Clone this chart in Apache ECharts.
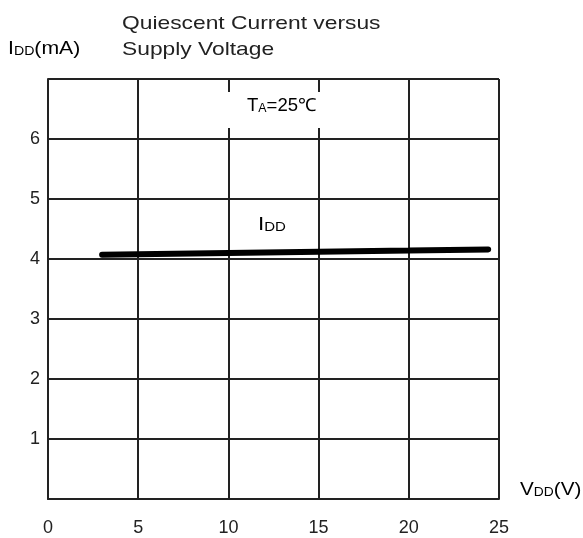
<!DOCTYPE html>
<html>
<head>
<meta charset="utf-8">
<script src="https://cdn.jsdelivr.net/npm/echarts@6/dist/echarts.min.js"></script>
<style>
  html, body { margin: 0; padding: 0; background: #fff; }
  #chart { width: 583px; height: 538px; }
</style>
</head>
<body>
<div id="chart"></div>
<script>
// supply voltage (V) and quiescent current (mA)
const vdd = [3, 5, 10, 15, 20, 24.4]
const idd = [4.07, 4.08, 4.1, 4.12, 4.14, 4.16]
const xTicks = [0, 5, 10, 15, 20, 25]
const yTicks = [1, 2, 3, 4, 5, 6]

const FONT = '"Liberation Sans", Arial, sans-serif'
const INK = '#222'

const chart = echarts.init(document.getElementById('chart'), null, { renderer: 'canvas' })

const sub = {
  base: { fontSize: 18, color: INK, fontFamily: FONT },
  sub: { fontSize: 12, color: INK, fontFamily: FONT, verticalAlign: 'bottom', padding: [6, 0, 0, 0] },
}

// text written in the wide face of the original
const wideText = (x, y, text, scaleX, extra) => ({
  type: 'text', x, y, scaleX, z: 6,
  style: Object.assign({ text, rich: sub, align: 'left', verticalAlign: 'top' }, extra || {}),
})

const option = {
  backgroundColor: '#fff',
  animation: false,
  grid: { left: 48, top: 79, width: 451, height: 420, show: false },
  xAxis: {
    type: 'value',
    min: 0,
    max: 25,
    interval: 5,
    axisLine: { show: true, onZero: false, lineStyle: { color: INK, width: 2 } },
    axisTick: { show: false },
    splitLine: { show: true, lineStyle: { color: INK, width: 2 } },
    axisLabel: {
      margin: 20,
      fontSize: 18,
      color: INK,
      fontFamily: FONT,
      formatter: (v) => (xTicks.includes(v) ? String(v) : ''),
    },
  },
  yAxis: {
    type: 'value',
    min: 0,
    max: 7,
    interval: 1,
    axisLine: { show: true, onZero: false, lineStyle: { color: INK, width: 2 } },
    axisTick: { show: false },
    splitLine: { show: true, lineStyle: { color: INK, width: 2 } },
    axisLabel: {
      margin: 8,
      fontSize: 18,
      color: INK,
      fontFamily: FONT,
      formatter: (v) => (yTicks.includes(v) ? String(v) : ''),
    },
  },
  series: [
    {
      name: 'IDD',
      type: 'line',
      data: vdd.map((v, i) => [v, idd[i]]),
      showSymbol: false,
      smooth: false,
      lineStyle: { color: '#000', width: 6, cap: 'round' },
      z: 5,
    },
  ],
  graphic: [
    // right and top border of the plot box
    { type: 'line', shape: { x1: 499, y1: 79, x2: 499, y2: 499 }, style: { stroke: INK, lineWidth: 2 }, z: 3 },
    { type: 'line', shape: { x1: 48, y1: 79, x2: 499, y2: 79 }, style: { stroke: INK, lineWidth: 2 }, z: 3 },
    // white box behind the temperature note
    { type: 'rect', shape: { x: 226, y: 92, width: 97, height: 36 }, style: { fill: '#fff' }, z: 4 },
    wideText(247, 97, '{base|T}{sub|A}{base|=25℃}', 1.03),
    wideText(258, 216, '{base|I}{sub|DD}', 1.25),
    wideText(8, 40, '{base|I}{sub|DD}{base|(mA)}', 1.18),
    wideText(520, 481, '{base|V}{sub|DD}{base|(V)}', 1.15),
    wideText(122, 11, 'Quiescent Current versus\nSupply Voltage', 1.2, {
      rich: null, fontSize: 19, lineHeight: 26, fill: INK, fontFamily: FONT,
    }),
  ],
}

chart.setOption(option)
</script>
</body>
</html>
